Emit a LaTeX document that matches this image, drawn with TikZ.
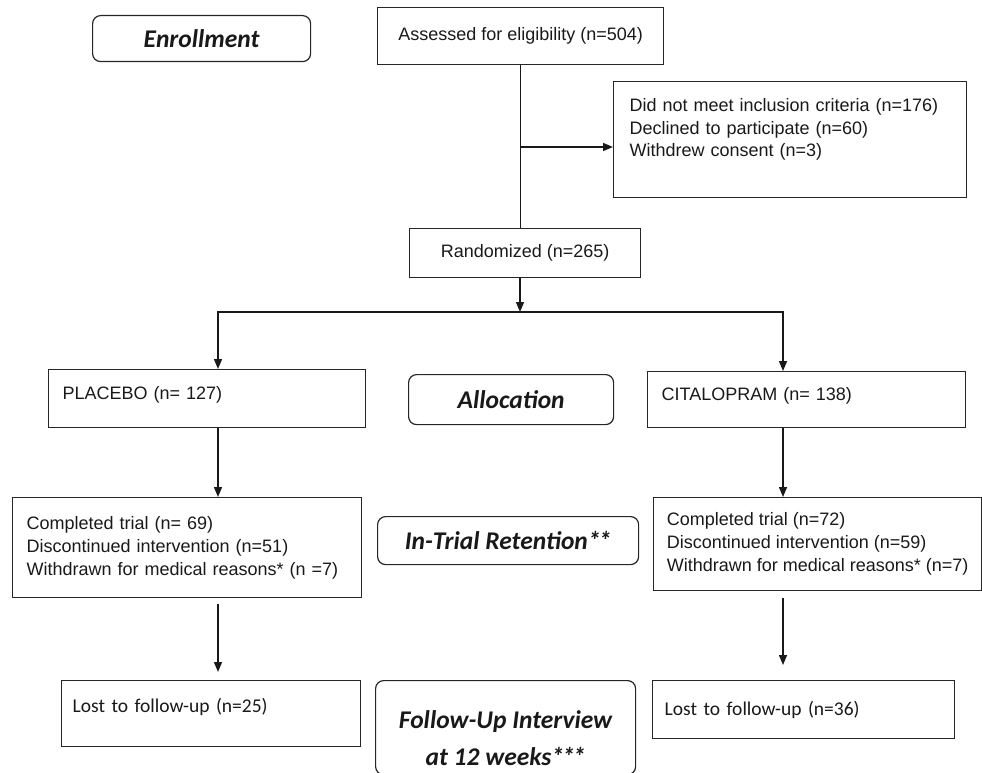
\documentclass[tikz,border=0pt]{standalone}
\usepackage{fontspec}
\setmainfont{Liberation Sans}
\newfontfamily\labfont{Carlito}
\usetikzlibrary{arrows.meta}
\begin{document}
\begin{tikzpicture}[x=1pt,y=-1pt,
  box/.style={draw=black!85, line width=1.3pt, inner ysep=0pt, inner xsep=14pt,
    text=black!90, font=\fontsize{18}{23}\selectfont, anchor=north west, align=left},
  lostbox/.style={box, font=\labfont\fontsize{19.5}{23}\selectfont},
  phase/.style={draw=black!85, line width=1.2pt, rounded corners=8pt, inner sep=0pt,
    text=black!90, font=\labfont\bfseries\itshape\fontsize{25.5}{37}\selectfont,
    anchor=north west, align=center},
  conn/.style={draw=black!90, line width=1.4pt, line join=miter},
  arr/.style={conn, -{Triangle[length=10pt,width=8pt]}}
]
\useasboundingbox (0,0) rectangle (982,773);

% phase labels
\node[phase, minimum width=218, minimum height=46] (enr) at (92,15) {Enrollment};
\node[phase, minimum width=205, minimum height=50] (alloc) at (408,374) {Allocation};
\node[phase, minimum width=261, minimum height=48] (intrial) at (377,516) {In-Trial Retention*\kern-2pt*};
\node[phase, minimum width=260, minimum height=94] (follow) at (375,680)
  {\rule{0pt}{38pt}Follow-Up Interview\\at 12 weeks*\kern-2pt*\kern-2pt*};

% flow boxes
\node[box, align=center, minimum width=286, minimum height=57] (assess) at (377,7)
  {Assessed for eligibility (n=504)};
\node[box, inner xsep=16pt, text width=321, minimum width=353, minimum height=116,
  font=\fontsize{18}{22.5}\selectfont] (excl) at (613,81)
  {Did not meet inclusion criteria (n=176)\\Declined to participate (n=60)\\Withdrew consent (n=3)\rule[-24pt]{0pt}{0pt}};
\node[box, align=center, minimum width=231, minimum height=49] (rand) at (409,228)
  {Randomized (n=265)};
\node[box, text width=289, minimum width=317, minimum height=58] (plac) at (48,369)
  {PLACEBO (n= 127)\rule[-12pt]{0pt}{0pt}};
\node[box, text width=290, minimum width=318, minimum height=56] (cital) at (647,371)
  {CITALOPRAM (n= 138)\rule[-12pt]{0pt}{0pt}};
\node[box, text width=321, minimum width=349, minimum height=100] (compL) at (12,497)
  {Completed trial (n= 69)\\Discontinued intervention (n=51)\\Withdrawn for medical reasons* (n =7)};
\node[box, inner xsep=10pt, minimum width=328, minimum height=93] (compR) at (653,497)
  {Completed trial (n=72)\\Discontinued intervention (n=59)\\Withdrawn for medical reasons* (n=7)};
\node[lostbox, inner xsep=11pt, text width=277, minimum width=299, minimum height=66] (lostL) at (61,680)
  {Lost to follow-up (n=25)\rule[-16pt]{0pt}{0pt}};
\node[lostbox, inner xsep=12pt, text width=278, minimum width=302, minimum height=58] (lostR) at (652,680)
  {Lost to follow-up (n=36)};

% connectors
\draw[conn] (assess.south) -- (assess.south |- rand.north);
\coordinate (br) at (520,147);
\draw[arr] (br) -- (br -| excl.west);
\coordinate (split) at (520,312);
\coordinate (L) at (218,312);
\coordinate (R) at (783,312);
\draw[arr] (split |- rand.south) -- (split);
\draw[arr] (split) -- (L) -- (L |- plac.north);
\draw[arr] (split) -- (R) -- (R |- cital.north);
\draw[arr] (L |- plac.south) -- (L |- compL.north);
\draw[arr] (R |- cital.south) -- (R |- compR.north);
\draw[arr, shorten <=6pt, shorten >=8pt] (L |- compL.south) -- (L |- lostL.north);
\draw[arr, shorten <=7pt, shorten >=15pt] (R |- compR.south) -- (R |- lostR.north);
\end{tikzpicture}
\end{document}
